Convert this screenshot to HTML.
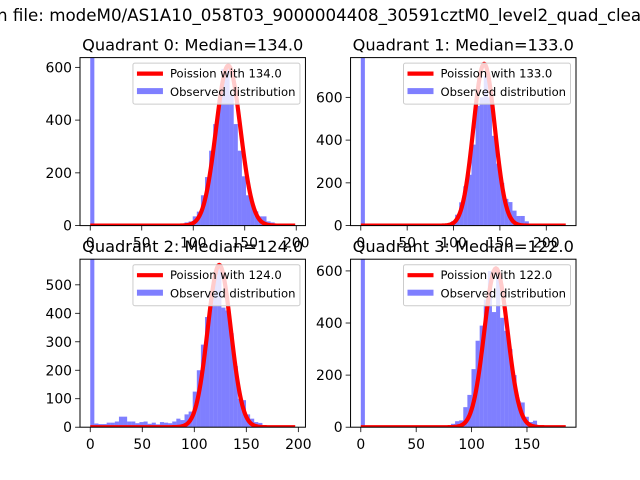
<!DOCTYPE html>
<html><head><meta charset="utf-8"><style>
html,body{margin:0;padding:0;background:#fff;}
svg{display:block;font-family:"DejaVu Sans","Liberation Sans",sans-serif;}
</style></head><body>
<svg id="fig" width="640" height="480" viewBox="0 0 640 480" xmlns="http://www.w3.org/2000/svg">
<rect width="640" height="480" fill="#fff"/>
<text x="-3" y="21" font-size="16.7" fill="#000">n file: modeM0/AS1A10_058T03_9000004408_30591cztM0_level2_quad_clean.evt</text>
</svg>
<script>
// ---- data ----
const titles = ["Quadrant 0: Median=134.0","Quadrant 1: Median=133.0","Quadrant 2: Median=124.0","Quadrant 3: Median=122.0"];
const medians = [134, 133, 124, 122];
const dataMax = [199, 221, 197, 185];
const yMax = [637, 786, 590, 645];
const yTicks0 = [0,200,400,600];
const yTicks1 = [0,200,400,600];
const yTicks2 = [0,100,200,300,400,500];
const yTicks3 = [0,200,400,600];
const xTicks0 = [0,50,100,150,200];
const xTicks1 = [0,50,100,150,200];
const xTicks2 = [0,50,100,150,200];
const xTicks3 = [0,50,100,150];
const poissonPeak = [607, 757, 570, 610];
const curveVariance = [140, 134, 123, 110];
const counts0 = [3000,0,0,0,0,0,0,0,0,0,0,0,0,0,0,0,0,0,0,0,0,0,5,12,16,35,53,115,184,284,385,477,594,594,496,385,284,187,115,86,54,35,35,16,12,3,2,0,0,0];
const counts1 = [3000,0,0,0,0,0,0,0,0,0,0,0,0,0,0,0,0,0,0,0,0,8,20,51,109,184,238,379,560,600,700,600,420,290,200,125,110,70,45,45,20,5,0,0,0,0,0,0,0,0];
const counts2 = [3000,13,11,11,16,16,20,37,37,20,20,14,18,20,12,16,10,18,16,14,20,30,25,45,55,125,200,290,387,470,530,560,420,410,330,215,100,95,45,30,18,15,3,0,0,0,0,0,0,0];
const counts3 = [3000,0,0,0,0,0,0,0,0,0,0,0,0,0,0,0,0,0,0,0,0,0,13,23,26,77,124,223,332,390,490,600,442,600,420,370,300,200,100,95,40,20,25,8,0,0,0,0,0,0];
// ---- layout ----
const NS="http://www.w3.org/2000/svg";
const svg=document.getElementById('fig');
const boxes=[[80,57.6,305.45,225.6],[350.55,57.6,576,225.6],[80,259.2,305.45,427.2],[350.55,259.2,576,427.2]];
const allCounts=[counts0,counts1,counts2,counts3];
const allY=[yTicks0,yTicks1,yTicks2,yTicks3];
const allX=[xTicks0,xTicks1,xTicks2,xTicks3];
function mk(tag,attrs,parent){const e=document.createElementNS(NS,tag);for(const k in attrs)e.setAttribute(k,attrs[k]);(parent||svg).appendChild(e);return e;}
for(let q=0;q<4;q++){
  const [L,T,R,B]=boxes[q];
  const xmax=dataMax[q], m=xmax*0.05;
  const x0=-m,x1=xmax+m;
  const sx=v=>L+(v-x0)/(x1-x0)*(R-L);
  const sy=v=>B-v/yMax[q]*(B-T);
  const g=mk('g',{});
  
  
  const cid='clip'+q;
  const cp=mk('clipPath',{id:cid},g);mk('rect',{x:L,y:T,width:R-L,height:B-T},cp);
  const plot=mk('g',{'clip-path':'url(#'+cid+')'},g);
  const bw=xmax/50;
  // histogram
  const counts=allCounts[q];
  counts.forEach((c,i)=>{
    if(c<=0)return;
    const r=mk('rect',{x:sx(i*bw),y:sy(c),width:sx((i+1)*bw)-sx(i*bw),height:sy(0)-sy(c),fill:'#0000ff','fill-opacity':0.5},plot);
    
    
  });
  // poisson curve (on top)
  const lam=medians[q], vv=curveVariance[q];
  let d='';
  for(let k=0;k<=Math.floor(xmax);k++){
    const p=Math.exp(-(k-lam)*(k-lam)/(2*vv))*poissonPeak[q];
    d+=(k?'L':'M')+sx(k).toFixed(2)+','+sy(p).toFixed(2);
  }
  const line=mk('path',{d:d,fill:'none',stroke:'#ff0000','stroke-width':4.2,'stroke-linejoin':'round'},plot);
  
  
  // frame
  const fr=mk('rect',{x:L,y:T,width:R-L,height:B-T,fill:'none',stroke:'#000','stroke-width':1},g);
  
  
  // ticks
  allX[q].forEach(v=>{
    const x=sx(v);
    mk('line',{x1:x,y1:B,x2:x,y2:B+4.9,stroke:'#000','stroke-width':0.8},g);
    const t=mk('text',{x:x,y:B+22,'font-size':13.9,'text-anchor':'middle'},g);
    t.textContent=v;
    
    
  });
  allY[q].forEach(v=>{
    const y=sy(v);
    mk('line',{x1:L,y1:y,x2:L-4.9,y2:y,stroke:'#000','stroke-width':0.8},g);
    const t=mk('text',{x:L-8,y:y+5,'font-size':13.9,'text-anchor':'end'},g);
    t.textContent=v;
    
    
  });
  // title
  const tt=mk('text',{x:(L+R)/2,y:T-7,'font-size':16.2,'text-anchor':'middle'},g);
  tt.textContent=titles[q];
  
  
  // legend
  const lg=mk('g',{},g);
  
  
  const lx=R-172.5, ly=T+5.5;
  mk('rect',{x:lx,y:ly,width:167,height:41,rx:2,fill:'#fff','fill-opacity':0.8,stroke:'#ccc','stroke-width':1},lg);
  mk('line',{x1:lx+4,y1:ly+10.5,x2:lx+30,y2:ly+10.5,stroke:'#ff0000','stroke-width':4.2},lg);
  const t1=mk('text',{x:lx+37,y:ly+14.5,'font-size':11.6},lg);
  t1.textContent='Poission with '+medians[q].toFixed(1);
  
  
  mk('rect',{x:lx+4,y:ly+25,width:26,height:6,fill:'#0000ff','fill-opacity':0.5},lg);
  const t2=mk('text',{x:lx+37,y:ly+33,'font-size':11.6},lg);
  t2.textContent='Observed distribution';
  
  
}
</script>
</body></html>
